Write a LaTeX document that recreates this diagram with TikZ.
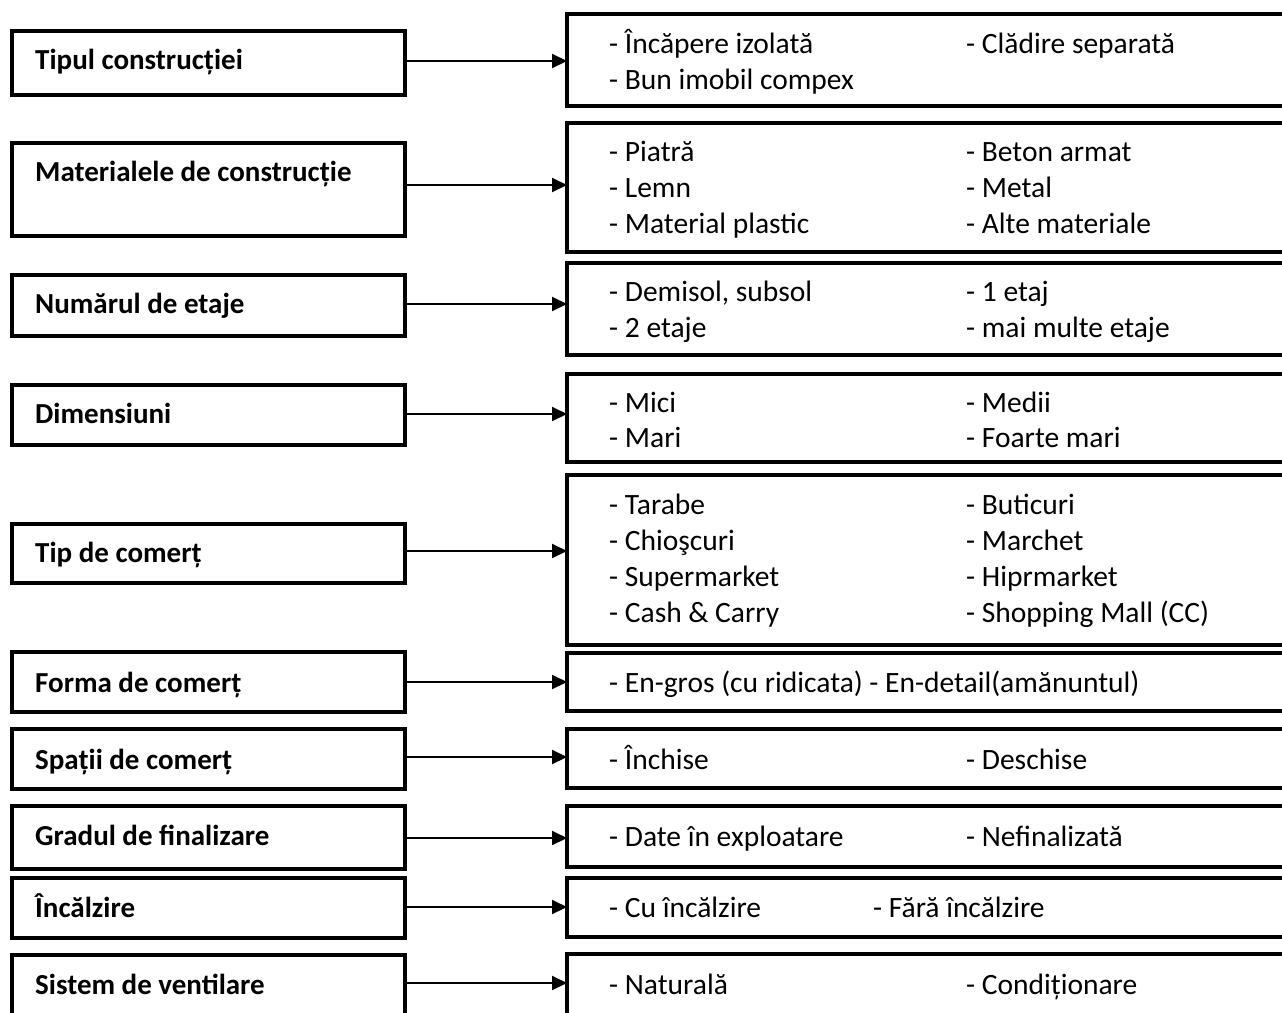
\documentclass[tikz,border=0pt]{standalone}
\usepackage{fontspec}
\setmainfont{Carlito}
\usetikzlibrary{arrows.meta}
\tikzset{
  box/.style={draw, line width=4pt, inner sep=0pt, outer sep=0pt, minimum width=#1},
  lbox/.style={box=393pt},
  rbox/.style={box=733pt},
  lab/.style={anchor=base west, inner sep=0pt, font=\fontsize{29}{35}\selectfont\bfseries},
  item/.style={anchor=base west, inner sep=0pt, font=\fontsize{29.5}{36}\selectfont},
  arr/.style={line width=2pt, -{Triangle[length=15pt,width=14pt]}}
}
\begin{document}
\begin{tikzpicture}[x=1pt,y=-1pt]
\clip (0,0) rectangle (1282,1012);
\fill[white] (0,0) rectangle (1282,1012);

% category boxes (left column)
\node[lbox, minimum height=64pt] (l1) at (208.5,63) {};
\node[lbox, minimum height=93pt] (l2) at (208.5,189.5) {};
\node[lbox, minimum height=61pt] (l3) at (208.5,305.5) {};
\node[lbox, minimum height=60pt] (l4) at (208.5,415) {};
\node[lbox, minimum height=59pt] (l5) at (208.5,553.5) {};
\node[lbox, minimum height=60pt] (l6) at (208.5,682) {};
\node[lbox, minimum height=60pt] (l7) at (208.5,759) {};
\node[lbox, minimum height=63pt] (l8) at (208.5,837.5) {};
\node[lbox, minimum height=60pt] (l9) at (208.5,908) {};
\node[lbox, minimum height=75pt] (l10) at (208.5,992.5) {};

\node[lab] (t1) at (35,69) {Tipul construcției};
\node[lab] (t2) at (35,181) {Materialele de construcție};
\node[lab] (t3) at (35,313) {Numărul de etaje};
\node[lab] (t4) at (35,423) {Dimensiuni};
\node[lab] (t5) at (35,562) {Tip de comerț};
\node[lab] (t6) at (35,692) {Forma de comerț};
\node[lab] (t7) at (35,769) {Spații de comerț};
\node[lab] (t8) at (35,845) {Gradul de finalizare};
\node[lab] (t9) at (35,917) {Încălzire};
\node[lab] (t10) at (35,994) {Sistem de ventilare};

% option boxes (right column)
\node[rbox, minimum height=92pt] (r1) at (933.5,60) {};
\node[rbox, minimum height=129pt] (r2) at (933.5,187.5) {};
\node[rbox, minimum height=92pt] (r3) at (933.5,309) {};
\node[rbox, minimum height=88pt] (r4) at (933.5,418) {};
\node[rbox, minimum height=170pt] (r5) at (933.5,560) {};
\node[rbox, minimum height=58pt] (r6) at (933.5,682) {};
\node[rbox, minimum height=59pt] (r7) at (933.5,758.5) {};
\node[rbox, minimum height=61pt] (r8) at (933.5,836.5) {};
\node[rbox, minimum height=59pt] (r9) at (933.5,907.5) {};
\node[rbox, minimum height=76pt] (r10) at (933.5,992) {};

% options
\node[item] (o1a) at (609,53) {- Încăpere izolată};
\node[item] (o1b) at (966,53) {- Clădire separată};
\node[item] (o1c) at (609,89) {- Bun imobil compex};

\node[item] (o2a) at (609,161) {- Piatră};
\node[item] (o2b) at (966,161) {- Beton armat};
\node[item] (o2c) at (609,197) {- Lemn};
\node[item] (o2d) at (966,197) {- Metal};
\node[item] (o2e) at (609,233) {- Material plastic};
\node[item] (o2f) at (966,233) {- Alte materiale};

\node[item] (o3a) at (609,301) {- Demisol, subsol};
\node[item] (o3b) at (966,301) {- 1 etaj};
\node[item] (o3c) at (609,337) {- 2 etaje};
\node[item] (o3d) at (966,337) {- mai multe etaje};

\node[item] (o4a) at (609,412) {- Mici};
\node[item] (o4b) at (966,412) {- Medii};
\node[item] (o4c) at (609,447) {- Mari};
\node[item] (o4d) at (966,447) {- Foarte mari};

\node[item] (o5a) at (609,514) {- Tarabe};
\node[item] (o5b) at (966,514) {- Buticuri};
\node[item] (o5c) at (609,550) {- Chioşcuri};
\node[item] (o5d) at (966,550) {- Marchet};
\node[item] (o5e) at (609,586) {- Supermarket};
\node[item] (o5f) at (966,586) {- Hiprmarket};
\node[item] (o5g) at (609,622) {- Cash \& Carry};
\node[item] (o5h) at (966,622) {- Shopping Mall (CC)};

\node[item] (o6a) at (609,692) {- En-gros (cu ridicata) - En-detail(amănuntul)};

\node[item] (o7a) at (609,769) {- Închise};
\node[item] (o7b) at (966,769) {- Deschise};

\node[item] (o8a) at (609,846) {- Date în exploatare};
\node[item] (o8b) at (966,846) {- Nefinalizată};

\node[item] (o9a) at (609,917) {- Cu încălzire};
\node[item] (o9b) at (873,917) {- Fără încălzire};

\node[item] (o10a) at (609,994) {- Naturală};
\node[item] (o10b) at (966,994) {- Condiționare};

% connectors
\draw[arr] (l1.east |- 0,61) -- (r1.west |- 0,61);
\draw[arr] (l2.east |- 0,185) -- (r2.west |- 0,185);
\draw[arr] (l3.east |- 0,304) -- (r3.west |- 0,304);
\draw[arr] (l4.east |- 0,414) -- (r4.west |- 0,414);
\draw[arr] (l5.east |- 0,551) -- (r5.west |- 0,551);
\draw[arr] (l6.east |- 0,682) -- (r6.west |- 0,682);
\draw[arr] (l7.east |- 0,757) -- (r7.west |- 0,757);
\draw[arr] (l8.east |- 0,838) -- (r8.west |- 0,838);
\draw[arr] (l9.east |- 0,907) -- (r9.west |- 0,907);
\draw[arr] (l10.east |- 0,983) -- (r10.west |- 0,983);
\end{tikzpicture}
\end{document}
